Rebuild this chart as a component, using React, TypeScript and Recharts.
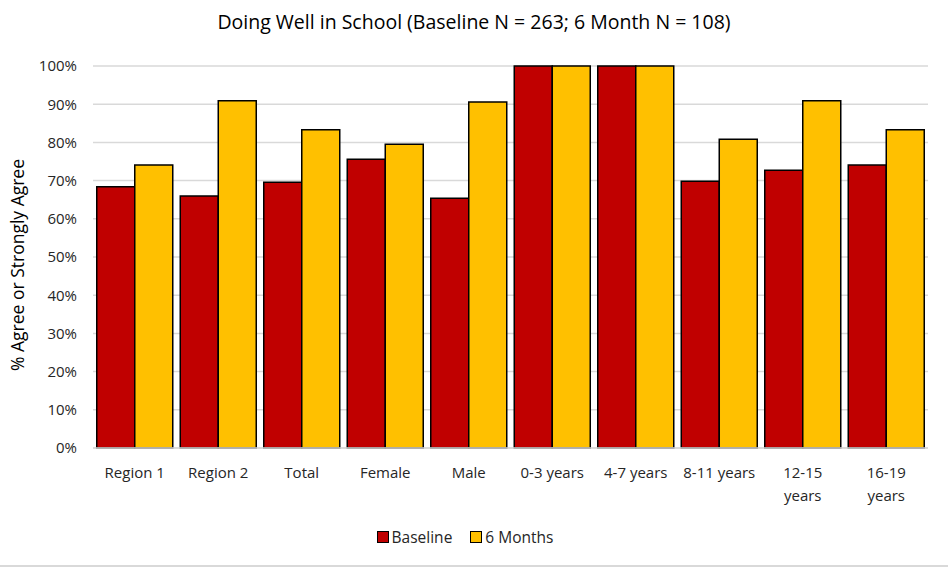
import { BarChart, Bar, XAxis, YAxis, CartesianGrid } from "recharts";

// categories along the x axis ("\n" marks a line break in the tick)
const categories = [
  "Region 1",
  "Region 2",
  "Total",
  "Female",
  "Male",
  "0-3 years",
  "4-7 years",
  "8-11 years",
  "12-15\nyears",
  "16-19\nyears",
];

// % agree or strongly agree
const baseline = [68.4, 66.0, 69.6, 75.6, 65.4, 100, 100, 69.8, 72.7, 74.1];
const sixMonths = [74.1, 90.9, 83.3, 79.5, 90.6, 100, 100, 80.8, 90.9, 83.3];

const yTicks = [0, 10, 20, 30, 40, 50, 60, 70, 80, 90, 100];

const RED = "#C00000";
const GOLD = "#FFC000";
const FONT = "'Open Sans', sans-serif";

const data = categories.map((name, i) => ({
  name,
  baseline: baseline[i],
  sixMonths: sixMonths[i],
}));

// split tick labels on "\n"
const CategoryTick = (props: any) => {
  const { x, y, payload } = props;
  const lines = String(payload.value).split("\n");
  return (
    <text
      x={x}
      y={y}
      textAnchor="middle"
      fill="#262626"
      fontSize={15}
      fontFamily={FONT}
    >
      {lines.map((line, i) => (
        <tspan key={i} x={x} dy={i === 0 ? 22 : 23}>
          {line}
        </tspan>
      ))}
    </text>
  );
};

const LegendItem = ({ color, label }: { color: string; label: string }) => (
  <div style={{ display: "flex", alignItems: "center", marginRight: 18 }}>
    <div
      style={{
        width: 10,
        height: 10,
        background: color,
        border: "1.5px solid #000",
        marginRight: 3,
      }}
    />
    <span>{label}</span>
  </div>
);

export default function App() {
  return (
    <div
      style={{
        position: "absolute",
        left: 0,
        top: 0,
        width: 948,
        height: 569,
        background: "#fff",
        fontFamily: FONT,
      }}
    >
      <div
        style={{
          position: "absolute",
          top: 8,
          left: 0,
          width: 948,
          textAlign: "center",
          fontSize: 19.5,
          color: "#000",
        }}
      >
        Doing Well in School (Baseline N = 263; 6 Month N = 108)
      </div>

      <div
        style={{
          position: "absolute",
          left: 17,
          top: 265,
          transform: "translate(-50%, -50%) rotate(-90deg)",
          whiteSpace: "nowrap",
          fontSize: 17.5,
          color: "#000",
        }}
      >
        % Agree or Strongly Agree
      </div>

      <BarChart
        width={948}
        height={569}
        data={data}
        margin={{ top: 66, right: 20, bottom: 61, left: 14 }}
        barCategoryGap="4.5%"
        barGap={0}
      >
        <CartesianGrid
          vertical={false}
          stroke="#d9d9d9"
          strokeWidth={1.5}
        />
        <XAxis
          dataKey="name"
          interval={0}
          height={60}
          axisLine={{ stroke: "#d9d9d9", strokeWidth: 1.5 }}
          tickLine={false}
          tick={<CategoryTick />}
        />
        <YAxis
          width={79}
          domain={[0, 100]}
          ticks={yTicks}
          interval={0}
          axisLine={false}
          tickLine={false}
          tickMargin={10}
          tickFormatter={(v: number) => `${v}%`}
          tick={{ fill: "#262626", fontSize: 15, fontFamily: FONT }}
        />
        <Bar
          dataKey="baseline"
          fill={RED}
          stroke="#000"
          strokeWidth={1.5}
          isAnimationActive={false}
        />
        <Bar
          dataKey="sixMonths"
          fill={GOLD}
          stroke="#000"
          strokeWidth={1.5}
          isAnimationActive={false}
        />
      </BarChart>

      <div
        style={{
          position: "absolute",
          top: 526,
          left: 0,
          width: 948,
          display: "flex",
          justifyContent: "center",
          fontSize: 15.5,
          color: "#262626",
          paddingLeft: 0,
          boxSizing: "border-box",
        }}
      >
        <LegendItem color={RED} label="Baseline" />
        <LegendItem color={GOLD} label="6 Months" />
      </div>

      <div
        style={{
          position: "absolute",
          left: 0,
          top: 565,
          width: 948,
          height: 2,
          background: "#d9d9d9",
        }}
      />
    </div>
  );
}
